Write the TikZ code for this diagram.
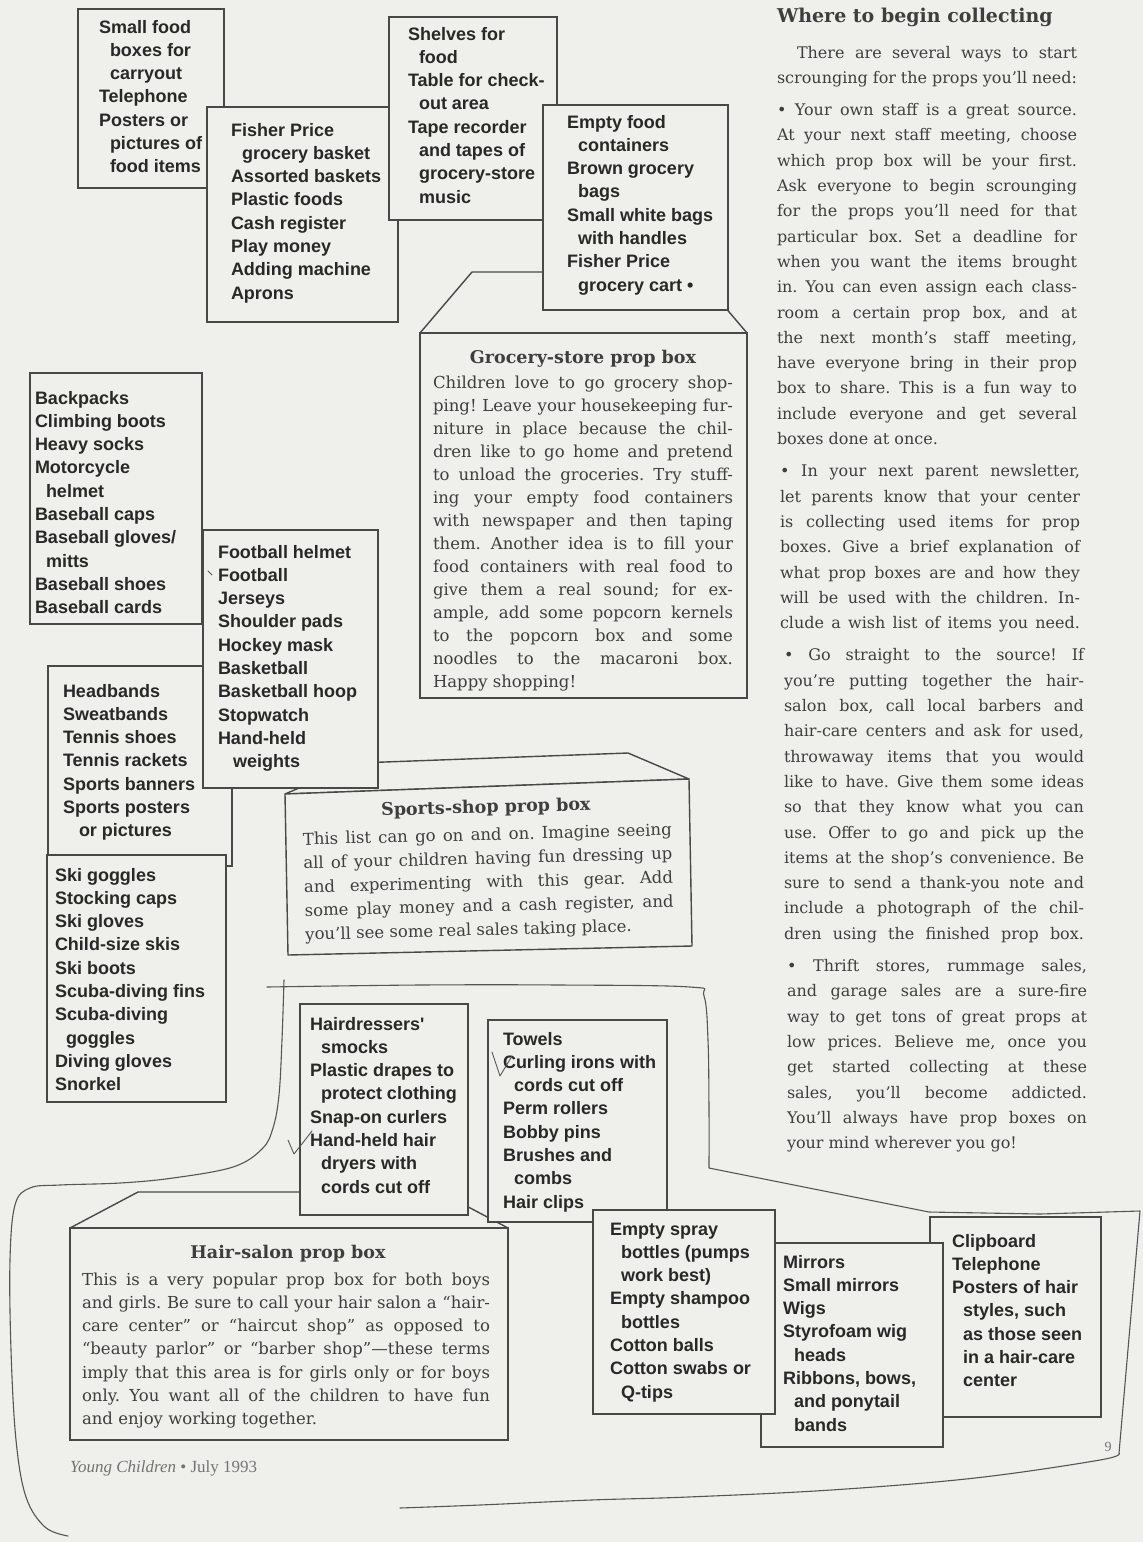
\documentclass[tikz,border=0pt]{standalone}
\usepackage{fontspec}
\setmainfont{DejaVu Serif}
\newfontfamily\listfam{Liberation Sans}
\newfontfamily\footfam{Liberation Serif}
\frenchspacing
\definecolor{paper}{RGB}{239,239,235}
\definecolor{ink}{RGB}{40,40,40}
\definecolor{bodyink}{RGB}{62,62,62}
\definecolor{rulec}{RGB}{72,72,72}
\definecolor{pen}{RGB}{85,85,85}
\newcommand\listfont{\listfam\bfseries\fontsize{18}{23.3}\selectfont}
\newcommand\bodyfont{\fontsize{16.5}{23}\selectfont}
\newcommand\titlefont{\fontsize{17.5}{20}\selectfont\bfseries}
\newcommand\colfont{\fontsize{16}{25.3}\selectfont}
\newcommand\hind{\hspace*{11pt}}
\newcommand\JL[1]{\hbox to \hsize{#1}}
\newcommand\LL[1]{\hbox{#1}}
\newcommand\itemlist[1]{\parbox[t]{250pt}{\raggedright #1}}
\newcommand\pbx[5]{\node[pbox,anchor=north west,minimum width={(#4-#2)*1pt},minimum height={(#5-#3)*1pt}] (#1) at (#2,#3) {};}
\tikzset{
  pbox/.style={draw=rulec, line width=1.4pt, fill=paper, inner sep=0pt, outer sep=0pt},
  face/.style={draw=rulec, line width=1.4pt, fill=paper, line join=round},
  lst/.style={anchor=base west, inner sep=0pt, outer sep=0pt, text=ink, font=\listfont},
  txt/.style={anchor=base west, inner sep=0pt, outer sep=0pt, text=bodyink, font=\bodyfont},
  ttl/.style={anchor=base, inner sep=0pt, outer sep=0pt, text=bodyink, font=\titlefont},
  col/.style={anchor=base west, inner sep=0pt, outer sep=0pt, text=bodyink, font=\colfont},
  handline/.style={draw=pen, line width=1.1pt, line cap=round, line join=round},
}
\begin{document}
\begin{tikzpicture}[x=1pt,y=-1pt]
\useasboundingbox (0,0) rectangle (1143,1542);
\fill[paper] (0,0) rectangle (1143,1542);

% ---------- hand-drawn outline round the hair-salon group ----------
\draw[handline] plot[smooth, tension=0.6] coordinates {(284,980) (282,1040) (279,1095) (273,1128) (262,1149) (233,1167) (173,1178) (120,1183) (60,1185) (30,1188) (15,1205) (10,1260) (11,1350) (16,1440) (26,1497) (45,1527) (68,1536)};
\draw[handline] plot[smooth, tension=0.6] coordinates {(267,987) (420,985) (560,985) (690,987) (704,996) (708,1040) (709,1110) (709,1168)} -- (929,1212) -- (1040,1214) -- (1140,1211) -- (1119,1453) -- plot[smooth, tension=0.6] coordinates {(1119,1453) (1100,1460) (975,1478) (831,1490) (688,1497) (591,1500) (480,1505) (400,1508)};

% ---------- grocery group ----------
\pbx{boxA}{78}{9}{224}{188}
\node[lst] (listA) at (99,33) {\itemlist{Small food\\\hind boxes for\\\hind carryout\\Telephone\\Posters or\\\hind pictures of\\\hind food items}};
\pbx{boxB}{207}{107}{398}{322}
\node[lst] (listB) at (231,136) {\itemlist{Fisher Price\\\hind grocery basket\\Assorted baskets\\Plastic foods\\Cash register\\Play money\\Adding machine\\Aprons}};
\pbx{boxC}{389}{17}{557}{220}
\node[lst] (listC) at (408,40) {\itemlist{Shelves for\\\hind food\\Table for check-\\\hind out area\\Tape recorder\\\hind and tapes of\\\hind grocery-store\\\hind music}};
\draw[face] (420,333)--(472,272)--(695,272)--(747,333)--cycle;
\pbx{boxD}{543}{105}{728}{310}
\node[lst] (listD) at (567,128) {\itemlist{Empty food\\\hind containers\\Brown grocery\\\hind bags\\Small white bags\\\hind with handles\\Fisher Price\\\hind grocery cart •}};
\pbx{groceryFront}{420}{333}{747}{698}
\node[ttl] (groceryTitle) at (583,363) {Grocery-store prop box};
\node[txt] (groceryText) at (433,388) {\parbox[t]{300pt}{%
\JL{Children love to go grocery shop-}
\JL{ping! Leave your housekeeping fur-}
\JL{niture in place because the chil-}
\JL{dren like to go home and pretend}
\JL{to unload the groceries. Try stuff-}
\JL{ing your empty food containers}
\JL{with newspaper and then taping}
\JL{them. Another idea is to fill your}
\JL{food containers with real food to}
\JL{give them a real sound; for ex-}
\JL{ample, add some popcorn kernels}
\JL{to the popcorn box and some}
\JL{noodles to the macaroni box.}
\LL{Happy shopping!}}};

% ---------- sports group ----------
\pbx{boxE}{30}{373}{202}{624}
\node[lst] (listE) at (35,404) {\itemlist{Backpacks\\Climbing boots\\Heavy socks\\Motorcycle\\\hind helmet\\Baseball caps\\Baseball gloves/\\\hind mitts\\Baseball shoes\\Baseball cards}};
\pbx{boxG}{48}{666}{232}{866}
\node[lst] (listG) at (63,697) {\itemlist{Headbands\\Sweatbands\\Tennis shoes\\Tennis rackets\\Sports banners\\Sports posters\\\hspace*{16pt}or pictures}};
\draw[face] (285,794)--(358,763)--(628,753)--(689,779)--cycle;
\pbx{boxF}{203}{530}{378}{788}
\node[lst] (listF) at (218,558) {\itemlist{Football helmet\\Football\\Jerseys\\Shoulder pads\\Hockey mask\\Basketball\\Basketball hoop\\Stopwatch\\Hand-held\\\hspace*{15pt}weights}};
\draw[handline, line width=0.8pt] (208,571)--(212,575);
\pbx{boxH}{47}{855}{226}{1102}
\node[lst] (listH) at (55,881) {\itemlist{Ski goggles\\Stocking caps\\Ski gloves\\Child-size skis\\Ski boots\\Scuba-diving fins\\Scuba-diving\\\hind goggles\\Diving gloves\\Snorkel}};
\draw[face] (285,794)--(689,779)--(692,946)--(288,955)--cycle;
\node[ttl, rotate=1.5] (sportsTitle) at (486,813) {Sports-shop prop box};
\node[txt, rotate=1.5, font=\fontsize{16.5}{23.8}\selectfont] (sportsText) at (303,845) {\parbox[t]{369pt}{%
\JL{This list can go on and on. Imagine seeing}
\JL{all of your children having fun dressing up}
\JL{and experimenting with this gear. Add}
\JL{some play money and a cash register, and}
\LL{you'll see some real sales taking place.}}};

% ---------- hair-salon group ----------
\draw[face] (70,1228)--(138,1192)--(440,1192)--(508,1228)--cycle;
\pbx{boxSmocks}{300}{1004}{468}{1215}
\node[lst] (listSmocks) at (310,1030) {\itemlist{Hairdressers'\\\hind smocks\\Plastic drapes to\\\hind protect clothing\\Snap-on curlers\\Hand-held hair\\\hind dryers with\\\hind cords cut off}};
\pbx{boxTowels}{488}{1020}{667}{1222}
\node[lst] (listTowels) at (503,1045) {\itemlist{Towels\\Curling irons with\\\hind cords cut off\\Perm rollers\\Bobby pins\\Brushes and\\\hind combs\\Hair clips}};
\draw[handline, line width=0.9pt] (288,1140)--(294,1154)--(312,1131);
\draw[handline, line width=0.9pt] (492,1052)--(500,1076)--(512,1056);
\pbx{hairFront}{70}{1228}{508}{1440}
\node[ttl] (hairTitle) at (288,1258) {Hair-salon prop box};
\node[txt, font=\fontsize{16.5}{23.3}\selectfont] (hairText) at (82,1285) {\parbox[t]{408pt}{%
\JL{This is a very popular prop box for both boys}
\JL{and girls. Be sure to call your hair salon a “hair-}
\JL{care center” or “haircut shop” as opposed to}
\JL{“beauty parlor” or “barber shop”—these terms}
\JL{imply that this area is for girls only or for boys}
\JL{only. You want all of the children to have fun}
\LL{and enjoy working together.}}};
\pbx{boxClip}{930}{1217}{1101}{1417}
\node[lst] (listClip) at (952,1247) {\itemlist{Clipboard\\Telephone\\Posters of hair\\\hind styles, such\\\hind as those seen\\\hind in a hair-care\\\hind center}};
\pbx{boxMirror}{761}{1243}{943}{1447}
\node[lst] (listMirror) at (783,1268) {\itemlist{Mirrors\\Small mirrors\\Wigs\\Styrofoam wig\\\hind heads\\Ribbons, bows,\\\hind and ponytail\\\hind bands}};
\pbx{boxSpray}{593}{1210}{775}{1414}
\node[lst] (listSpray) at (610,1235) {\itemlist{Empty spray\\\hind bottles (pumps\\\hind work best)\\Empty shampoo\\\hind bottles\\Cotton balls\\Cotton swabs or\\\hind Q-tips}};

% ---------- right-hand column ----------
\node[col, font=\fontsize{19}{22}\selectfont\bfseries] (colHead) at (777,22) {Where to begin collecting};
\node[col] (colP1) at (777,58) {\parbox[t]{300pt}{%
\JL{\hskip 20pt There are several ways to start}
\JL{scrounging for the props you'll need:}}};
\node[col] (colP2) at (777,115.6) {\parbox[t]{300pt}{%
\JL{• Your own staff is a great source.}
\JL{At your next staff meeting, choose}
\JL{which prop box will be your first.}
\JL{Ask everyone to begin scrounging}
\JL{for the props you'll need for that}
\JL{particular box. Set a deadline for}
\JL{when you want the items brought}
\JL{in. You can even assign each class-}
\JL{room a certain prop box, and at}
\JL{the next month's staff meeting,}
\JL{have everyone bring in their prop}
\JL{box to share. This is a fun way to}
\JL{include everyone and get several}
\LL{boxes done at once.}}};
\node[col] (colP3) at (780,476.8) {\parbox[t]{300pt}{%
\JL{• In your next parent newsletter,}
\JL{let parents know that your center}
\JL{is collecting used items for prop}
\JL{boxes. Give a brief explanation of}
\JL{what prop boxes are and how they}
\JL{will be used with the children. In-}
\JL{clude a wish list of items you need.}}};
\node[col] (colP4) at (784,660.9) {\parbox[t]{300pt}{%
\JL{• Go straight to the source! If}
\JL{you're putting together the hair-}
\JL{salon box, call local barbers and}
\JL{hair-care centers and ask for used,}
\JL{throwaway items that you would}
\JL{like to have. Give them some ideas}
\JL{so that they know what you can}
\JL{use. Offer to go and pick up the}
\JL{items at the shop's convenience. Be}
\JL{sure to send a thank-you note and}
\JL{include a photograph of the chil-}
\JL{dren using the finished prop box.}}};
\node[col] (colP5) at (787,971.5) {\parbox[t]{300pt}{%
\JL{• Thrift stores, rummage sales,}
\JL{and garage sales are a sure-fire}
\JL{way to get tons of great props at}
\JL{low prices. Believe me, once you}
\JL{get started collecting at these}
\JL{sales, you'll become addicted.}
\JL{You'll always have prop boxes on}
\LL{your mind wherever you go!}}};

% ---------- footer ----------
\node[anchor=base west, inner sep=0pt, text=black!55, font=\footfam\fontsize{17}{19}\selectfont] (footer) at (70,1472) {\textit{Young Children} • July 1993};
\node[inner sep=0pt, text=black!55, font=\footfam\fontsize{14}{16}\selectfont] (pagenum) at (1108,1447) {9};
\end{tikzpicture}
\end{document}
